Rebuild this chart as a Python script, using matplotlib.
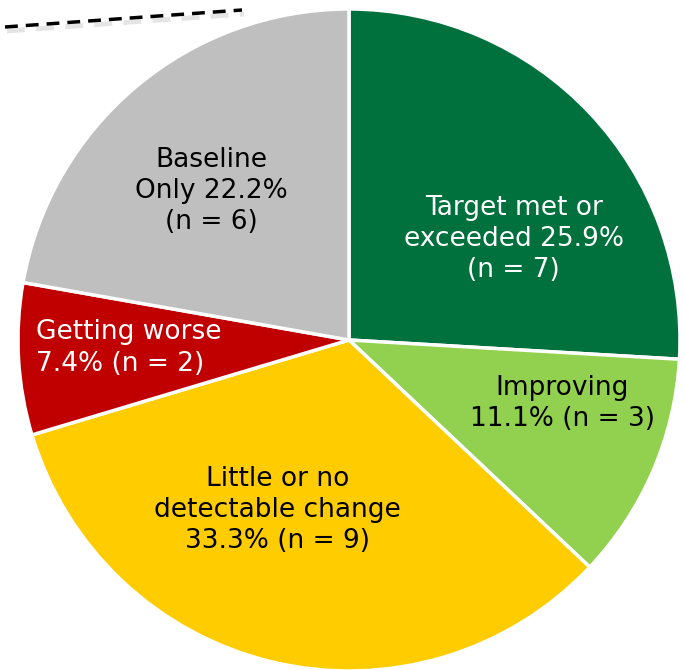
import numpy as np
import matplotlib.pyplot as plt
from matplotlib.lines import Line2D

# slice data, clockwise from 12 o'clock
labels = ['Target met or\nexceeded 25.9%\n(n = 7)',
          'Improving\n11.1% (n = 3)',
          'Little or no\ndetectable change\n33.3% (n = 9)',
          'Getting worse\n7.4% (n = 2)',
          'Baseline\nOnly 22.2%\n(n = 6)']
counts = [7, 3, 9, 2, 6]
colors = ['#00703C', '#92D050', '#FFCC00', '#C00000', '#BFBFBF']
text_colors = ['white', 'black', 'black', 'white', 'black']
text_align = ['center', 'center', 'center', 'left', 'center']

# label centres in pie units (radius = 1)
label_pos = [(0.498, 0.305), (0.644, -0.193), (-0.215, -0.514),
             (-0.666, -0.024), (-0.417, 0.450)]

fig = plt.figure(figsize=(6.85, 6.70), dpi=100)
ax = fig.add_axes([(349 - 331) / 685, (670 - 340 - 331) / 670, 662 / 685, 662 / 670])

wedges, texts = ax.pie(counts, colors=colors, startangle=90, counterclock=False,
                       wedgeprops=dict(edgecolor='white', linewidth=2.5))

for lab, tc, al, (x, y) in zip(labels, text_colors, text_align, label_pos):
    ax.text(x, y, lab, ha='center', va='center', multialignment=al, color=tc,
            fontsize=19, family='DejaVu Sans', linespacing=1.26)

ax.set_xlim(-1, 1)
ax.set_ylim(-1, 1)
ax.set_aspect('equal')
ax.axis('off')

# dashed line in the top-left corner, with a soft shadow
fig.add_artist(Line2D([7 / 685, 244 / 685], [1 - 31 / 670, 1 - 14 / 670],
                      color='#CCCCCC', lw=3.5, ls=(0, (3.7, 2.3)), alpha=0.5,
                      transform=fig.transFigure))
fig.add_artist(Line2D([5 / 685, 242 / 685], [1 - 27 / 670, 1 - 10 / 670],
                      color='black', lw=2.5, ls=(0, (3.7, 2.3)),
                      transform=fig.transFigure))

fig.savefig('out.png', dpi=100)
